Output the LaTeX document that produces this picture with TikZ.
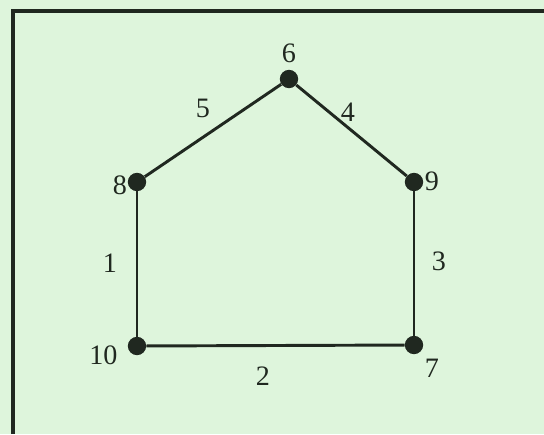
\documentclass[tikz,border=0pt]{standalone}
\usepackage{fontspec}
\setmainfont{Liberation Serif}
\definecolor{paper}{RGB}{222,245,220}
\definecolor{ink}{RGB}{32,40,32}
\begin{document}
\begin{tikzpicture}[
  vertex/.style={circle,fill=ink,inner sep=0pt,minimum size=0.55cm},
  edge/.style={color=ink,line width=2.5pt},
  lbl/.style={color=ink,font=\fontsize{24}{26}\selectfont,inner sep=0pt}]
\fill[fill=paper] (0,0) rectangle (16.32,13.02);
\useasboundingbox (0,0) rectangle (16.32,13.02);
\coordinate (fl) at (0.39,0);
\coordinate (ftl) at (0.39,12.69);
\coordinate (ftr) at (16.32,12.69);
\draw[color=ink,line width=2.8pt] (fl)--(ftl)--(ftr);
\node[vertex] (v6) at (8.67,10.65) {};
\node[vertex] (v8) at (4.11,7.56) {};
\node[vertex] (v9) at (12.42,7.56) {};
\node[vertex] (v10) at (4.11,2.64) {};
\node[vertex] (v7) at (12.42,2.67) {};
\draw[edge] (v8)--(v10);
\draw[edge] (v10)--(v7);
\draw[edge] (v9)--(v7);
\draw[edge] (v6)--(v9);
\draw[edge] (v8)--(v6);
\node[lbl] (n6) at (8.67,11.43) {6};
\node[lbl] (n8) at (3.6,7.47) {8};
\node[lbl] (n9) at (12.96,7.59) {9};
\node[lbl] (n10) at (3.1,2.37) {10};
\node[lbl] (n7) at (12.96,1.98) {7};
\node[lbl] (e1) at (3.3,5.13) {1};
\node[lbl] (e2) at (7.89,1.74) {2};
\node[lbl] (e3) at (13.17,5.19) {3};
\node[lbl] (e4) at (10.44,9.66) {4};
\node[lbl] (e5) at (6.09,9.78) {5};
\end{tikzpicture}
\end{document}
